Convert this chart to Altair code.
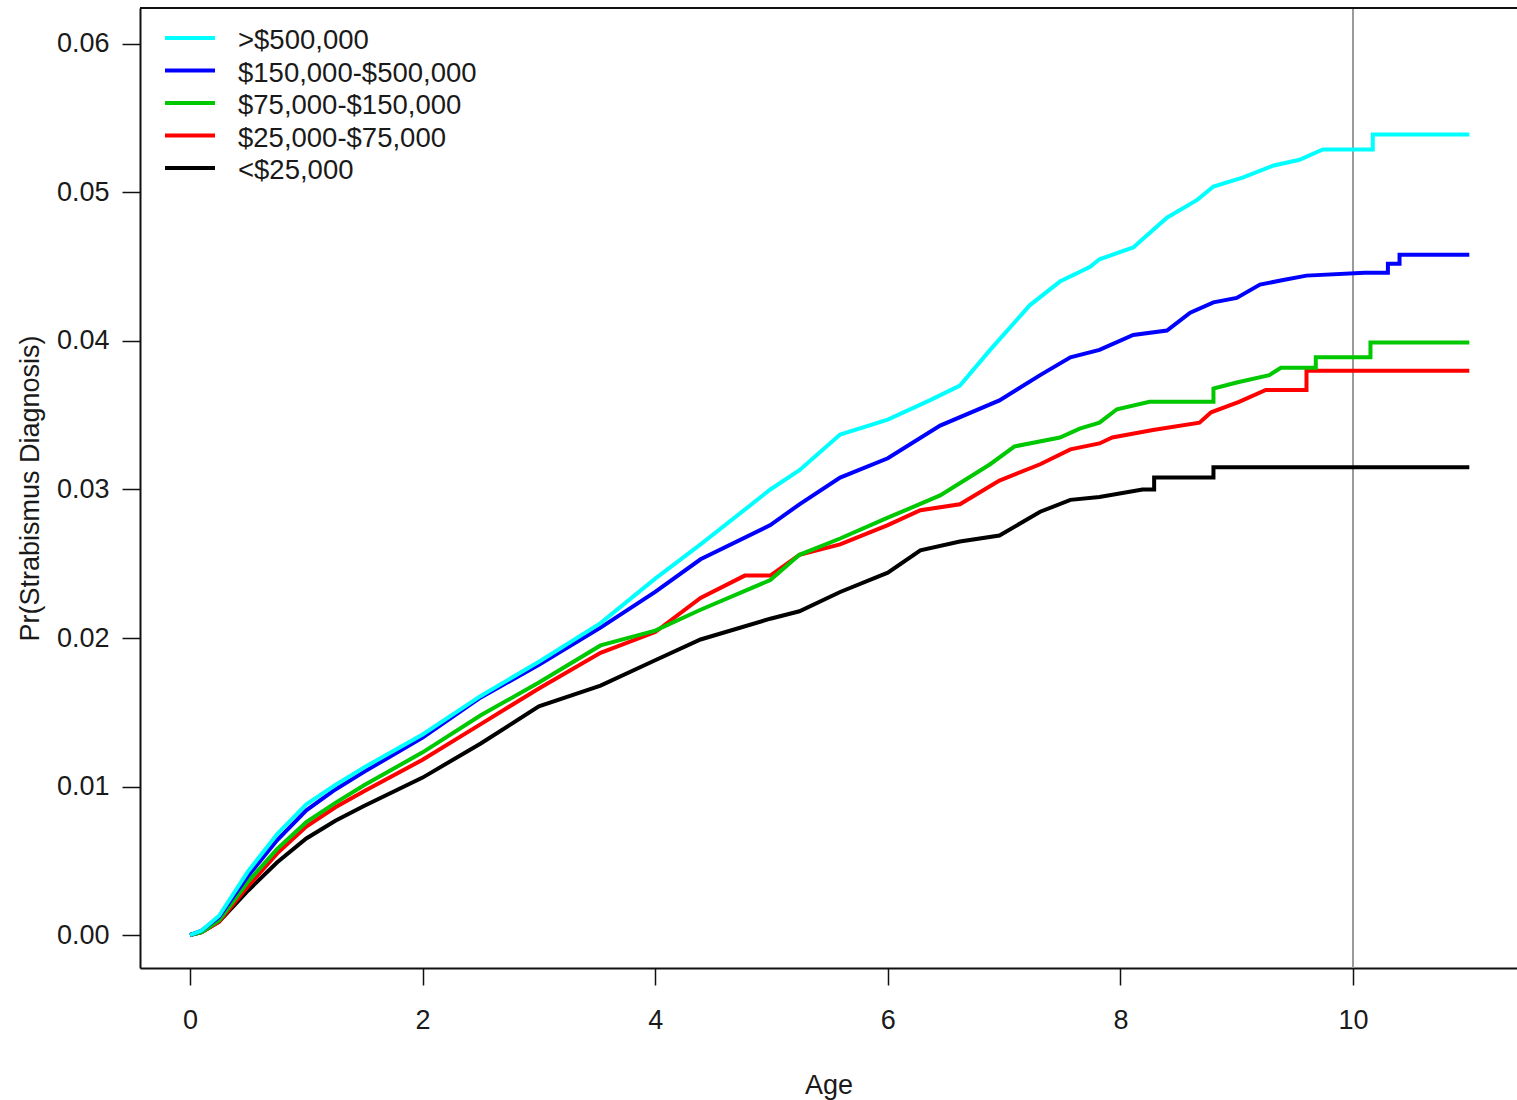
import altair as alt
import pandas as pd

# Income groups, plotting colours and drawing order (black first, cyan on top)
group_names = [">$500,000", "$150,000-$500,000", "$75,000-$150,000", "$25,000-$75,000", "<$25,000"]
group_colors = ["#00FFFF", "#0000FF", "#00C800", "#FF0000", "#000000"]

# Cumulative probability of a strabismus diagnosis by age, one curve per group
cyan_age = [0, 0.1, 0.25, 0.5, 0.75, 1, 1.25, 1.5, 2, 2.5, 3, 3.53, 4.0, 4.39, 4.99, 5.24, 5.59, 6.0,
            6.36, 6.62, 6.88, 7.22, 7.48, 7.74, 7.82, 8.11, 8.40, 8.66, 8.80, 9.05, 9.31, 9.54, 9.74,
            10.17, 10.17, 11.0]
cyan_pr = [0, 0.0003, 0.0013, 0.0043, 0.0068, 0.0088, 0.0101, 0.0113, 0.0135, 0.0161, 0.0184, 0.0210,
           0.0240, 0.0263, 0.0300, 0.0313, 0.0337, 0.0347, 0.0360, 0.0370, 0.0394, 0.0424, 0.0440,
           0.0450, 0.0455, 0.0463, 0.0483, 0.0495, 0.0504, 0.0510, 0.0518, 0.0522, 0.0529, 0.0529,
           0.0539, 0.0539]

blue_age = [0, 0.1, 0.25, 0.5, 0.75, 1, 1.25, 1.5, 2, 2.5, 3, 3.53, 4.0, 4.39, 4.99, 5.24, 5.59, 6.0,
            6.45, 6.96, 7.31, 7.57, 7.82, 8.11, 8.40, 8.6, 8.8, 9.0, 9.2, 9.4, 9.6, 10.1, 10.3, 10.3,
            10.4, 10.4, 11.0]
blue_pr = [0, 0.0003, 0.0012, 0.0040, 0.0064, 0.0084, 0.0098, 0.0110, 0.0133, 0.0160, 0.0182, 0.0207,
           0.0231, 0.0253, 0.0276, 0.0290, 0.0308, 0.0321, 0.0343, 0.0360, 0.0377, 0.0389, 0.0394,
           0.0404, 0.0407, 0.0419, 0.0426, 0.0429, 0.0438, 0.0441, 0.0444, 0.0446, 0.0446, 0.0452,
           0.0452, 0.0458, 0.0458]

green_age = [0, 0.1, 0.25, 0.5, 0.75, 1, 1.25, 1.5, 2, 2.5, 3, 3.53, 4.0, 4.39, 4.99, 5.24, 5.59, 6.0,
             6.45, 6.88, 7.09, 7.48, 7.65, 7.82, 7.97, 8.25, 8.8, 8.8, 9.0, 9.28, 9.38, 9.68, 9.68,
             10.15, 10.15, 11.0]
green_pr = [0, 0.0002, 0.0010, 0.0036, 0.0058, 0.0076, 0.0089, 0.0101, 0.0123, 0.0148, 0.0170, 0.0195,
            0.0205, 0.0219, 0.0239, 0.0256, 0.0267, 0.0281, 0.0296, 0.0317, 0.0329, 0.0335, 0.0341,
            0.0345, 0.0354, 0.0359, 0.0359, 0.0368, 0.0372, 0.0377, 0.0382, 0.0382, 0.0389, 0.0389,
            0.0399, 0.0399]

red_age = [0, 0.1, 0.25, 0.5, 0.75, 1, 1.25, 1.5, 2, 2.5, 3, 3.53, 4.0, 4.39, 4.77, 4.99, 5.24, 5.59,
           6.0, 6.28, 6.62, 6.96, 7.31, 7.57, 7.82, 7.93, 8.28, 8.68, 8.78, 9.02, 9.25, 9.6, 9.6, 11.0]
red_pr = [0, 0.0002, 0.0009, 0.0033, 0.0055, 0.0073, 0.0086, 0.0097, 0.0118, 0.0142, 0.0166, 0.0190,
          0.0204, 0.0227, 0.0242, 0.0242, 0.0256, 0.0263, 0.0276, 0.0286, 0.0290, 0.0306, 0.0317,
          0.0327, 0.0331, 0.0335, 0.0340, 0.0345, 0.0352, 0.0359, 0.0367, 0.0367, 0.0380, 0.0380]

black_age = [0, 0.1, 0.25, 0.5, 0.75, 1, 1.25, 1.5, 2, 2.5, 3, 3.53, 4.0, 4.39, 4.99, 5.24, 5.59, 6.0,
             6.28, 6.62, 6.96, 7.31, 7.57, 7.82, 8.19, 8.29, 8.29, 8.8, 8.8, 11.0]
black_pr = [0, 0.0002, 0.0009, 0.0030, 0.0049, 0.0065, 0.0077, 0.0087, 0.0106, 0.0129, 0.0154, 0.0168,
            0.0185, 0.0199, 0.0213, 0.0218, 0.0231, 0.0244, 0.0259, 0.0265, 0.0269, 0.0285, 0.0293,
            0.0295, 0.0300, 0.0300, 0.0308, 0.0308, 0.0315, 0.0315]

x_ticks = [0, 2, 4, 6, 8, 10]
y_ticks = [0.00, 0.01, 0.02, 0.03, 0.04, 0.05, 0.06]
reference_age = [10]

FONT = "Liberation Sans"
TEXT = "#1a1a1a"
W, H = 1377, 960

curves = [
    ("<$25,000", black_age, black_pr),
    ("$25,000-$75,000", red_age, red_pr),
    ("$75,000-$150,000", green_age, green_pr),
    ("$150,000-$500,000", blue_age, blue_pr),
    (">$500,000", cyan_age, cyan_pr),
]
rows = []
for name, ages, prs in curves:
    for i, (a, p) in enumerate(zip(ages, prs)):
        rows.append({"group": name, "age": a, "pr": p, "idx": i})
df = pd.DataFrame(rows)

x_scale = alt.Scale(domain=[-0.43, 11.41], nice=False, zero=False)
y_scale = alt.Scale(domain=[-0.00222, 0.06242], nice=False, zero=False)
color = alt.Color("group:N", scale=alt.Scale(domain=group_names, range=group_colors), legend=None)

lines = alt.Chart(df).mark_line(strokeWidth=4, strokeJoin="miter").encode(
    x=alt.X("age:Q", scale=x_scale,
            axis=alt.Axis(values=x_ticks, format="d", title="Age", tickSize=17, labelPadding=22,
                          titleY=125, titleBaseline="alphabetic")),
    y=alt.Y("pr:Q", scale=y_scale,
            axis=alt.Axis(values=y_ticks, format=".2f", title="Pr(Strabismus Diagnosis)",
                          tickSize=18, labelPadding=13, titleX=-110, titleY=H / 2,
                          titleBaseline="middle", titleAngle=-90)),
    color=color,
    order=alt.Order("idx:Q"),
)

vline = alt.Chart(pd.DataFrame({"age": reference_age})).mark_rule(
    color="#9a9a9a", strokeWidth=2
).encode(x=alt.X("age:Q", scale=x_scale))

top_edge = alt.Chart(pd.DataFrame({"k": [0]})).mark_rule(color="#111111", strokeWidth=2).encode(
    x=alt.value(0), x2=alt.value(W), y=alt.value(0)
)

# Key in the upper-left corner: one short line and one label per group
legend_df = pd.DataFrame({"group": group_names})
legend_y = alt.Y("group:N", axis=None,
                 scale=alt.Scale(type="point", domain=group_names, range=[30, 160], padding=0))

legend_lines = alt.Chart(legend_df).mark_rule(strokeWidth=4).encode(
    x=alt.value(25), x2=alt.value(75), y=legend_y, color=color
)
legend_text = alt.Chart(legend_df).mark_text(
    align="left", baseline="middle", font=FONT, fontSize=27.5, color=TEXT, dy=3
).encode(x=alt.value(98), y=legend_y, text="group:N")

chart = alt.layer(vline, lines, top_edge, legend_lines, legend_text).resolve_scale(
    y="independent"
).properties(
    width=W, height=H,
    autosize=alt.AutoSizeParams(type="none"),
    padding={"left": 140, "top": 8, "right": 0, "bottom": 132},
    background="white",
).configure_view(stroke=None).configure_axis(
    grid=False,
    domainColor="#111111", domainWidth=2,
    tickColor="#111111", tickWidth=1.5,
    labelFont=FONT, labelFontSize=27, labelColor=TEXT,
    titleFont=FONT, titleFontSize=27, titleColor=TEXT, titleFontWeight="normal",
)

chart.save("out.html", embed_options={"renderer": "svg", "actions": False})
